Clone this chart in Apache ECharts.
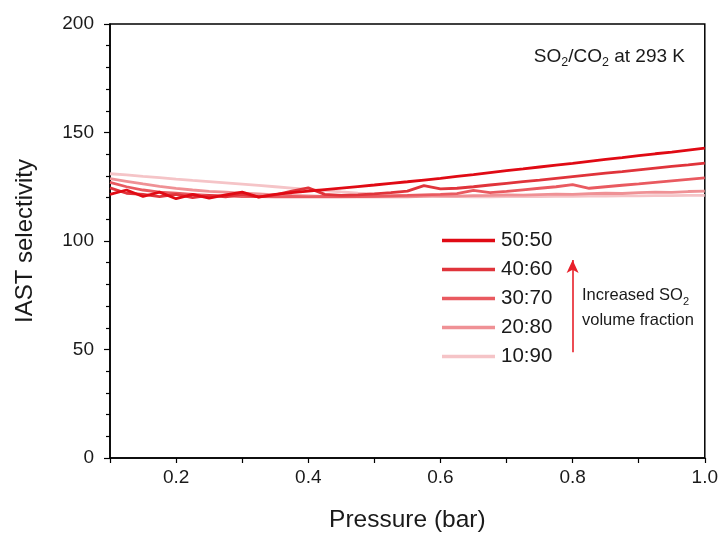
<!DOCTYPE html>
<html><head><meta charset="utf-8">
<script src="https://cdn.jsdelivr.net/npm/echarts@6/dist/echarts.min.js"></script>
<style>html,body{margin:0;padding:0;background:#fff}#c{width:721px;height:538px}</style>
</head><body><div id="c"></div>
<script>
const pressure = [0.1,0.125,0.15,0.175,0.2,0.225,0.25,0.275,0.3,0.325,0.35,0.375,0.4,0.425,0.45,0.475,0.5,0.525,0.55,0.575,0.6,0.625,0.65,0.675,0.7,0.725,0.75,0.775,0.8,0.825,0.85,0.875,0.9,0.925,0.95,0.975,1.0];
const sel5050 = [121.5,123.5,120.5,122.5,119.5,121.5,119.8,121.2,122.5,120.2,121.5,122.3,123.0,123.7,124.4,125.1,125.8,126.6,127.3,128.1,128.9,129.8,130.6,131.5,132.4,133.2,134.1,135.0,135.8,136.7,137.6,138.4,139.3,140.2,141.0,141.9,142.8];
const sel4060 = [124.5,122.0,121.5,120.5,121.5,120.0,121.0,120.3,121.5,120.3,121.3,123.0,124.5,121.5,121.0,121.3,121.7,122.3,123.0,125.5,124.0,124.3,125.0,125.8,126.6,127.4,128.1,128.9,129.7,130.5,131.3,132.0,132.8,133.6,134.4,135.1,135.9];
const sel3070 = [127.0,125.0,123.5,122.5,122.0,121.5,121.0,120.8,120.5,120.5,120.3,120.5,120.3,120.5,120.3,120.5,120.6,120.8,121.0,121.3,121.5,121.8,123.3,122.3,122.9,123.6,124.3,125.0,126.0,124.3,125.0,125.7,126.3,127.0,127.7,128.4,129.1];
const sel2080 = [128.7,127.5,126.3,125.2,124.3,123.5,122.9,122.5,122.0,121.7,121.3,121.0,120.8,120.6,120.5,120.4,120.4,120.5,120.4,120.6,120.8,120.7,120.9,121.0,121.2,121.1,121.4,121.6,121.5,121.8,122.0,121.9,122.3,122.5,122.4,122.8,123.0];
const sel1090 = [131.0,130.5,129.8,129.2,128.5,127.9,127.4,126.8,126.2,125.6,125.0,124.4,123.8,123.2,122.6,122.1,121.7,121.3,121.0,120.8,120.6,120.5,120.4,120.4,120.5,120.5,120.5,120.6,120.6,120.7,120.7,120.8,120.8,120.9,120.9,121.0,121.0];
const seriesNames = ['10:90','20:80','30:70','40:60','50:50'];
const seriesValues = [sel1090, sel2080, sel3070, sel4060, sel5050];
const seriesColors = ['#f5c4c7','#ef9195','#e95a60','#e0343b','#e00a14'];
const xTicks = [0.2,0.4,0.6,0.8,1.0];
const arrowX = 0.8, arrowFrom = 48.7, arrowTo = 91.3;

const FONT = 'Liberation Sans, Arial, sans-serif';
const chart = echarts.init(document.getElementById('c'), null, {renderer:'canvas'});
const series = seriesNames.map((n, i) => ({
  name: n, type: 'line', symbol: 'none', showSymbol: false,
  data: pressure.map((p, j) => [p, seriesValues[i][j]]),
  lineStyle: {color: seriesColors[i], width: 2.8},
  itemStyle: {color: seriesColors[i]},
  z: 2 + i
}));
series[4].markLine = {
  silent: true, symbol: ['none', 'arrow'], symbolSize: [9, 13],
  lineStyle: {color: '#e8202a', width: 1.6, type: 'solid'},
  label: {show: false},
  data: [[{coord: [arrowX, arrowFrom]}, {coord: [arrowX, arrowTo]}]]
};
const legendOrder = ['50:50','40:60','30:70','20:80','10:90'];
chart.setOption({
  animation: false,
  backgroundColor: '#fff',
  textStyle: {fontFamily: FONT},
  title: {
    text: '{a|SO}{s|2}{a|/CO}{s|2}{a| at 293 K}',
    right: 31, top: 42,
    textStyle: {fontWeight: 'normal', rich: {
      a: {fontSize: 19, color: '#1a1a1a', fontFamily: FONT, fontWeight: 'normal', verticalAlign: 'top', lineHeight: 21},
      s: {fontSize: 12.5, color: '#1a1a1a', fontFamily: FONT, fontWeight: 'normal', verticalAlign: 'top', padding: [9,0,0,0], lineHeight: 21}
    }}
  },
  grid: {left: 110, right: 16, top: 24, bottom: 77, show: true, borderColor: '#000', borderWidth: 1.5},
  legend: {
    orient: 'vertical', left: 442, top: 230, padding: 0,
    data: legendOrder.map(n => ({name: n, icon: 'rect',
      itemStyle: {color: seriesColors[seriesNames.indexOf(n)]}})),
    itemWidth: 53, itemHeight: 3.5, itemGap: 8,
    textStyle: {fontSize: 20.5, color: '#1a1a1a', fontFamily: FONT, lineHeight: 20.5, padding: [0,0,0,1]}
  },
  xAxis: {
    type: 'value', min: 0.1, max: 1.0, interval: 0.1,
    name: 'Pressure (bar)', nameLocation: 'middle', nameGap: 50,
    nameTextStyle: {fontSize: 24.5, color: '#1a1a1a', fontFamily: FONT},
    axisLine: {show: true, lineStyle: {color: '#000', width: 1.5}},
    axisTick: {show: true, length: 5, lineStyle: {color: '#000', width: 1.2}},
    axisLabel: {fontSize: 19, color: '#1a1a1a', margin: 10, fontFamily: FONT,
      formatter: v => xTicks.some(t => Math.abs(t - v) < 1e-6) ? v.toFixed(1) : ''},
    splitLine: {show: false}
  },
  yAxis: {
    type: 'value', min: 0, max: 200, interval: 50,
    name: 'IAST selectivity', nameLocation: 'middle', nameGap: 73,
    nameTextStyle: {fontSize: 24, color: '#1a1a1a', fontFamily: FONT},
    axisLine: {show: true, lineStyle: {color: '#000', width: 1.5}},
    axisTick: {show: true, length: 6, lineStyle: {color: '#000', width: 1.2}},
    minorTick: {show: true, splitNumber: 5, length: 4, lineStyle: {color: '#000', width: 1.2}},
    axisLabel: {fontSize: 19, color: '#1a1a1a', margin: 16, fontFamily: FONT},
    splitLine: {show: false}
  },
  graphic: [{
    type: 'text', left: 582, top: 287,
    style: {
      text: '{a|Increased SO}{s|2}\n{a|volume fraction}',
      rich: {
        a: {fontSize: 16.5, fill: '#1a1a1a', fontFamily: FONT, verticalAlign: 'top', lineHeight: 25},
        s: {fontSize: 11, fill: '#1a1a1a', fontFamily: FONT, verticalAlign: 'top', padding: [9,0,0,0], lineHeight: 25}
      }
    }
  }],
  series: series
});
</script></body></html>
